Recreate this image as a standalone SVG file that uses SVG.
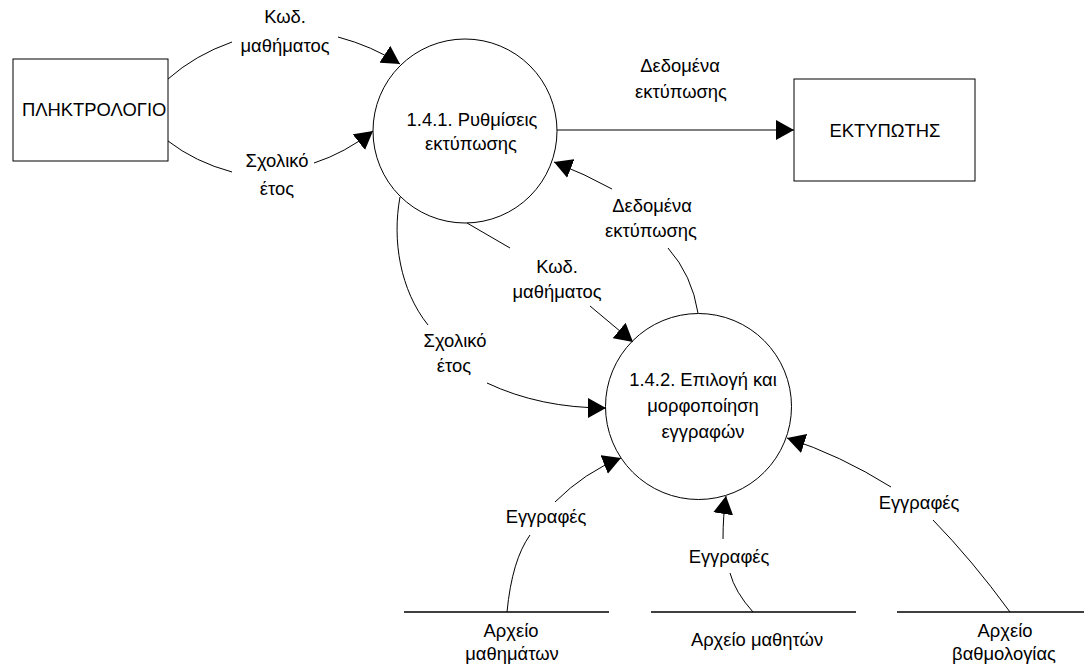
<svg xmlns="http://www.w3.org/2000/svg" width="1084" height="670" viewBox="0 0 1084 670">
  <style>
    .box { fill: #fff; stroke: #000; stroke-width: 1; }
    .proc { fill: #fff; stroke: #000; stroke-width: 1; }
    .store { stroke: #000; stroke-width: 1.3; }
    .flow { fill: none; stroke: #000; stroke-width: 1; }
    text { font-family: "Liberation Sans", Arial, sans-serif; font-size: 18.4px; fill: #000; }
    .c { text-anchor: middle; }
  </style>
  <defs>
    <marker id="arrow" markerUnits="userSpaceOnUse" markerWidth="18" markerHeight="20" refX="18" refY="10" orient="auto">
      <path d="M0,0 L18,10 L0,20 z" fill="#000"/>
    </marker>
  </defs>

  <rect width="1084" height="670" fill="#fff"/>

  <!-- external entities -->
  <g id="keyboard">
    <rect class="box" x="13" y="59" width="155" height="102"/>
    <text x="22" y="116">ΠΛΗΚΤΡΟΛΟΓΙΟ</text>
  </g>
  <g id="printer">
    <rect class="box" x="794" y="79" width="181" height="102"/>
    <text class="c" x="885" y="137">ΕΚΤΥΠΩΤΗΣ</text>
  </g>

  <!-- processes -->
  <g id="proc-141">
    <circle class="proc" cx="465" cy="131" r="92"/>
    <text class="c" x="472" y="126">1.4.1. Ρυθμίσεις</text>
    <text class="c" x="471" y="150">εκτύπωσης</text>
  </g>
  <g id="proc-142">
    <circle class="proc" cx="698.5" cy="406.5" r="93"/>
    <text class="c" x="703" y="386">1.4.2. Επιλογή και</text>
    <text class="c" x="703" y="412">μορφοποίηση</text>
    <text class="c" x="703" y="438">εγγραφών</text>
  </g>

  <!-- data stores -->
  <g id="store-courses">
    <line class="store" x1="404" y1="612" x2="609" y2="612"/>
    <text class="c" x="511" y="637">Αρχείο</text>
    <text class="c" x="512" y="660">μαθημάτων</text>
  </g>
  <g id="store-students">
    <line class="store" x1="651" y1="612" x2="856" y2="612"/>
    <text class="c" x="757" y="646">Αρχείο μαθητών</text>
  </g>
  <g id="store-grades">
    <line class="store" x1="897" y1="612" x2="1084" y2="612"/>
    <text class="c" x="1005" y="637">Αρχείο</text>
    <text class="c" x="1004" y="660">βαθμολογίας</text>
  </g>

  <!-- data flows -->
  <g id="flows">
    <!-- keyboard -> 1.4.1 : course code -->
    <path class="flow" d="M168,79 Q195,55 232,42"/>
    <path class="flow" d="M338,37 Q372,46 400,64" marker-end="url(#arrow)"/>
    <text class="c" x="285" y="23">Κωδ.</text>
    <text class="c" x="285" y="52">μαθήματος</text>

    <!-- keyboard -> 1.4.1 : school year -->
    <path class="flow" d="M168,141 Q195,162 232,172"/>
    <path class="flow" d="M314,163 Q345,153 373,131" marker-end="url(#arrow)"/>
    <text class="c" x="277" y="167">Σχολικό</text>
    <text class="c" x="277" y="195">έτος</text>

    <!-- 1.4.1 -> printer -->
    <path class="flow" d="M557,130 L794,130" marker-end="url(#arrow)"/>
    <text class="c" x="680" y="72">Δεδομένα</text>
    <text class="c" x="681" y="98">εκτύπωσης</text>

    <!-- 1.4.2 -> 1.4.1 : print data -->
    <path class="flow" d="M698,313 Q692,275 668,248"/>
    <path class="flow" d="M612,189 Q585,174 554,162" marker-end="url(#arrow)"/>
    <text class="c" x="652" y="212">Δεδομένα</text>
    <text class="c" x="651" y="237">εκτύπωσης</text>

    <!-- 1.4.1 -> 1.4.2 : course code -->
    <path class="flow" d="M467,223 L510,248"/>
    <path class="flow" d="M590,306 L633,342" marker-end="url(#arrow)"/>
    <text class="c" x="557" y="273">Κωδ.</text>
    <text class="c" x="557" y="298">μαθήματος</text>

    <!-- 1.4.1 -> 1.4.2 : school year -->
    <path class="flow" d="M400,197 C392,240 400,290 428,325"/>
    <path class="flow" d="M487,383 Q540,408 606,408" marker-end="url(#arrow)"/>
    <text class="c" x="455" y="347">Σχολικό</text>
    <text class="c" x="454" y="372">έτος</text>

    <!-- course file -> 1.4.2 -->
    <path class="flow" d="M507,612 Q512,560 530,535"/>
    <path class="flow" d="M555,502 Q585,472 621,458" marker-end="url(#arrow)"/>
    <text class="c" x="546" y="523">Εγγραφές</text>

    <!-- student file -> 1.4.2 -->
    <path class="flow" d="M753,612 Q735,592 730,573"/>
    <path class="flow" d="M723,539 Q723,515 726,496" marker-end="url(#arrow)"/>
    <text class="c" x="729" y="563">Εγγραφές</text>

    <!-- grades file -> 1.4.2 -->
    <path class="flow" d="M1010,612 Q972,560 933,520"/>
    <path class="flow" d="M891,487 Q840,455 787,438" marker-end="url(#arrow)"/>
    <text class="c" x="919" y="509">Εγγραφές</text>
  </g>
</svg>
